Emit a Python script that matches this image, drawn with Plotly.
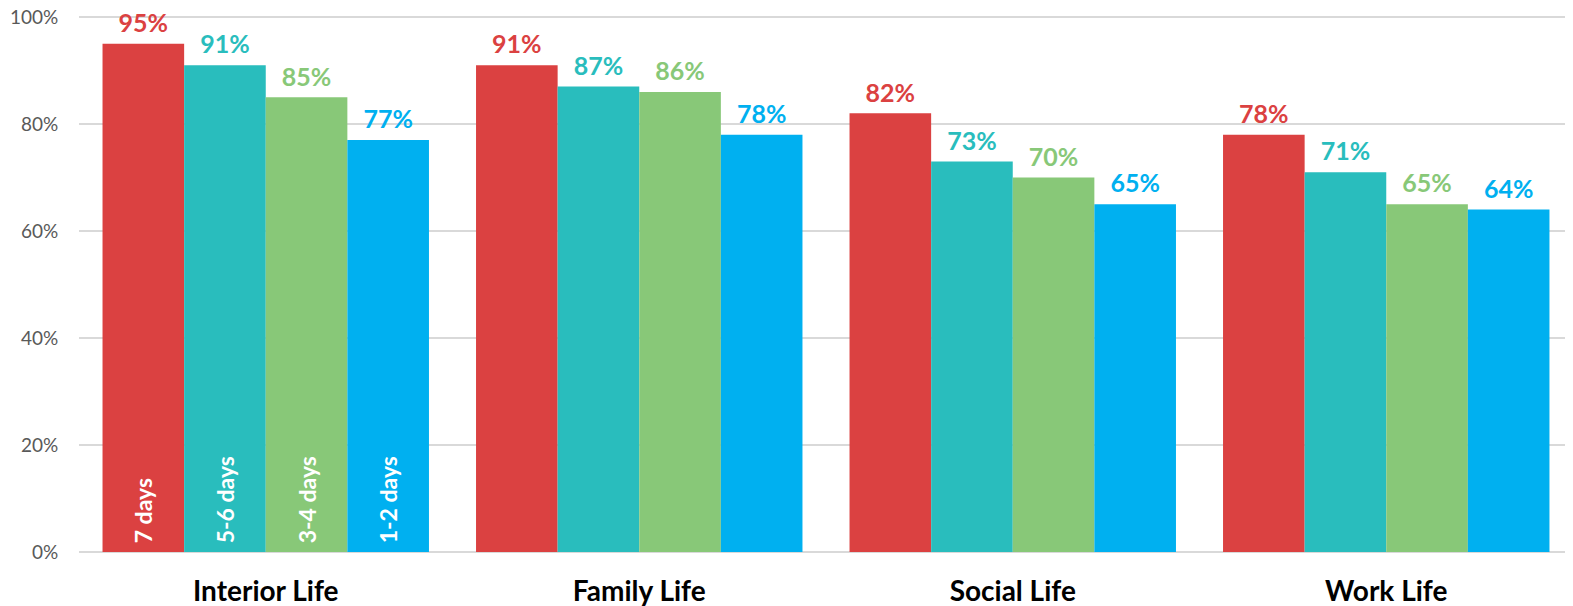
import plotly.graph_objects as go

categories = ["Interior Life", "Family Life", "Social Life", "Work Life"]
series_names = ["7 days", "5-6 days", "3-4 days", "1-2 days"]
values_7 = [95, 91, 82, 78]
values_56 = [91, 87, 73, 71]
values_34 = [85, 86, 70, 65]
values_12 = [77, 78, 65, 64]
colors = ["#DB4141", "#29BDBD", "#88C878", "#00B0F0"]
y_ticks = [0, 20, 40, 60, 80, 100]

all_values = [values_7, values_56, values_34, values_12]
FONT = "Lato"

fig = go.Figure()
for name, vals, col in zip(series_names, all_values, colors):
    fig.add_trace(go.Bar(
        x=categories, y=vals, name=name, offsetgroup=name,
        marker=dict(color=col, line=dict(width=0)),
        text=[f"<span style='font-size:25px'>{v}%</span><br> " for v in vals],
        textposition="outside",
        textangle=0, constraintext="none", cliponaxis=False,
        textfont=dict(family=FONT, size=6, color=col, weight="bold"),
        showlegend=False,
    ))
    fig.add_trace(go.Bar(
        x=categories, y=vals, name=name, offsetgroup=name,
        marker=dict(color="rgba(0,0,0,0)", line=dict(width=0)),
        text=["\u00a0" + name] + [""] * (len(categories) - 1),
        textposition="inside", insidetextanchor="start", textangle=-90,
        constraintext="none",
        textfont=dict(family=FONT, size=23, color="white", weight="bold"),
        showlegend=False, hoverinfo="skip",
    ))

fig.update_layout(
    width=1565, height=598,
    margin=dict(l=71, r=0, t=8, b=53, autoexpand=False),
    paper_bgcolor="white", plot_bgcolor="white",
    barmode="group", bargap=0.126, bargroupgap=0,
    font=dict(family=FONT),
    xaxis=dict(
        tickfont=dict(family=FONT, size=28, color="black", weight="bold"),
        showgrid=False, showline=False, ticks="", ticklabelstandoff=19,
    ),
    yaxis=dict(
        range=[-0.2, 100.2], tickvals=y_ticks, ticktext=[f"{t}%" for t in y_ticks],
        tickfont=dict(family=FONT, size=19, color="#595959"),
        ticklabeloverflow="allow",
        showgrid=True, gridcolor="#D9D9D9", gridwidth=2,
        zeroline=True, zerolinecolor="#D9D9D9", zerolinewidth=2,
        ticks="outside", ticklen=16, tickcolor="rgba(0,0,0,0)",
    ),
)

fig.write_html("out.html")
